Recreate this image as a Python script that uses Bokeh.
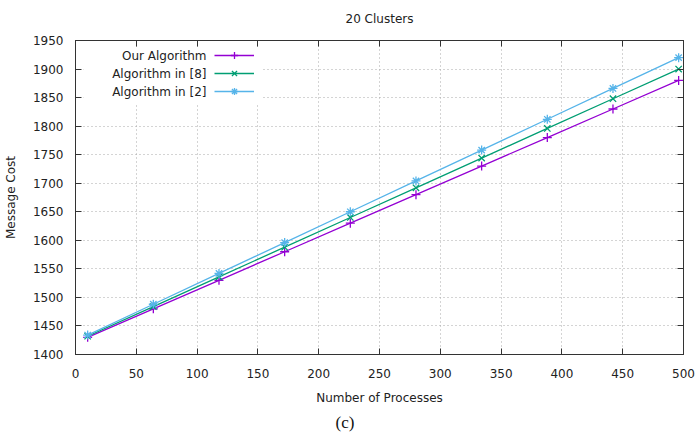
from bokeh.plotting import figure
from bokeh.models import (Range1d, LinearAxis, SingleIntervalTicker, Legend, LegendItem,
                          Label, BoxAnnotation, Title)
from bokeh.embed import file_html
from bokeh.resources import INLINE

processes = [10, 64, 118, 172, 226, 280, 334, 388, 442, 496]
our_alg = [1430, 1480, 1530, 1580, 1630, 1680, 1730, 1780, 1830, 1880]
alg_8 = [1432, 1484, 1536, 1588, 1640, 1692, 1744, 1796, 1848, 1900]
alg_2 = [1434, 1488, 1542, 1596, 1650, 1704, 1758, 1812, 1866, 1920]
series_names = ["Our Algorithm", "Algorithm in [8]", "Algorithm in [2]"]
title_text = "20 Clusters"
x_label = "Number of Processes"
y_label = "Message Cost"
caption = "(c)"

FONT = "DejaVu Sans"
TXT = "#222222"
FRAME = "#333333"

p = figure(width=696, height=440, output_backend="svg", toolbar_location=None,
           x_range=Range1d(0, 500), y_range=Range1d(1400, 1950),
           min_border_left=75, min_border_right=13, min_border_top=40, min_border_bottom=86,
           background_fill_color="white", border_fill_color="white",
           outline_line_color=FRAME, outline_line_width=1)

p.title.text = title_text
p.title.align = "center"
p.title.vertical_align = "top"
p.title.text_font = FONT
p.title.text_font_size = "12px"
p.title.text_font_style = "normal"
p.title.text_color = TXT
p.title.standoff = 18

xt = SingleIntervalTicker(interval=50)
yt = SingleIntervalTicker(interval=50)
p.xaxis.ticker = xt
p.yaxis.ticker = yt
for ax in (p.xaxis[0], p.yaxis[0]):
    ax.major_tick_in = 6
    ax.major_tick_out = 0
    ax.minor_tick_line_color = None
    ax.axis_line_color = FRAME
    ax.major_tick_line_color = FRAME
    ax.major_label_text_font = FONT
    ax.major_label_text_font_size = "12px"
    ax.major_label_text_color = TXT
    ax.axis_label_text_font = FONT
    ax.axis_label_text_font_size = "12px"
    ax.axis_label_text_font_style = "normal"
    ax.axis_label_text_color = TXT
p.xaxis.axis_label = x_label
p.yaxis.axis_label = y_label
p.xaxis.major_label_standoff = 10
p.yaxis.major_label_standoff = 8
p.xaxis.axis_label_standoff = 10
p.yaxis.axis_label_standoff = 12

for side in ("above", "right"):
    ax = LinearAxis(ticker=SingleIntervalTicker(interval=50),
                    major_tick_in=6, major_tick_out=0,
                    minor_tick_line_color=None, axis_line_color=FRAME,
                    major_tick_line_color=FRAME, major_label_text_color=None,
                    major_label_text_font_size="0px",
                    major_label_standoff=0)
    p.add_layout(ax, side)

p.add_layout(Title(text=caption, align="left", offset=260, standoff=6,
                   text_font="Liberation Serif", text_font_size="17px",
                   text_font_style="normal", text_color="#111111"), "below")

p.grid.grid_line_color = "#a8a8a8"
p.grid.grid_line_dash = "1 3"
p.grid.grid_line_width = 1

# occlude grid behind the key
p.add_layout(BoxAnnotation(left=8, right=186, top=306, bottom=250,
                           left_units="screen", right_units="screen",
                           top_units="screen", bottom_units="screen",
                           fill_color="white", fill_alpha=1, line_color=None,
                           level="underlay"))

colors = ["#9400d3", "#009e73", "#56b4e9"]
markers = ["cross", "x", "asterisk"]
ys = [our_alg, alg_8, alg_2]
items = []
for name, yv, c, m in zip(series_names, ys, colors, markers):
    r1 = p.line(processes, yv, line_color=c, line_width=1.3)
    r2 = p.scatter(processes, yv, marker=m, size=9, line_color=c, line_width=1.3)
    items.append(LegendItem(label=name, renderers=[r1, r2]))

leg = Legend(items=items, location=(139, 254), orientation="vertical",
             glyph_width=40, glyph_height=18, spacing=0, padding=0, margin=0,
             label_width=0, label_standoff=0, label_text_font_size="1px",
             label_height=1, label_text_color=None,
             background_fill_alpha=0, border_line_alpha=0)
p.add_layout(leg, "center")

row_y = [299, 281, 263]
for name, yy in zip(series_names, row_y):
    p.add_layout(Label(x=131, y=yy, x_units="screen", y_units="screen", text=name,
                       text_align="right", text_baseline="middle",
                       text_font=FONT, text_font_size="12px", text_color=TXT))

open("out.html", "w").write(file_html(p, INLINE))
